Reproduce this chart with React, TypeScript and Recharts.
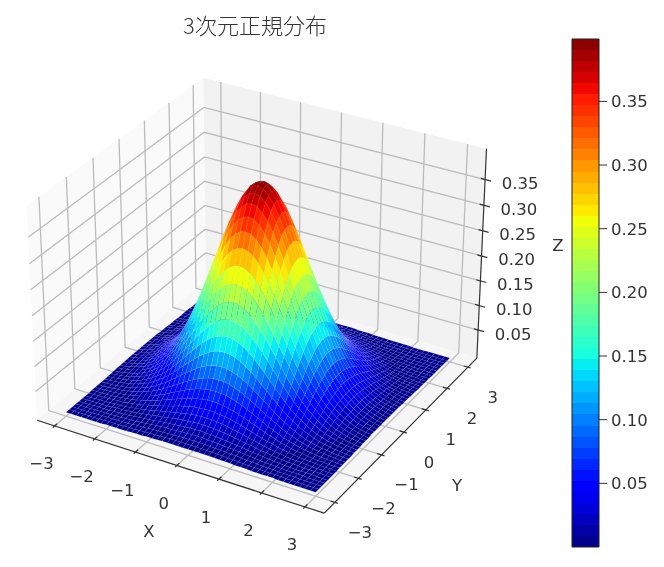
import React from "react";
import { BarChart, Bar, ScatterChart, Scatter, XAxis, YAxis } from "recharts";

const xTicks = [-3, -2, -1, 0, 1, 2, 3];
const yTicks = [-3, -2, -1, 0, 1, 2, 3];
const zTicks = [0.05, 0.1, 0.15, 0.2, 0.25, 0.3, 0.35];
const gridStep = 0.125;
const zMin = 0.0;
const zMax = 0.399;

const zQuadrant = [
  [.399,.396,.387,.372,.352,.328,.301,.272,.242,.212,.183,.155,.130,.107,.086,.069,.054,.042,.032,.024,.018,.013,.009,.006,.004],
  [.396,.393,.384,.369,.349,.326,.299,.270,.240,.210,.181,.154,.129,.106,.086,.068,.054,.041,.032,.024,.017,.013,.009,.006,.004],
  [.387,.384,.375,.360,.341,.318,.292,.264,.235,.205,.177,.150,.126,.103,.084,.067,.052,.040,.031,.023,.017,.012,.009,.006,.004],
  [.372,.369,.360,.347,.328,.306,.281,.254,.226,.198,.170,.145,.121,.099,.080,.064,.050,.039,.030,.022,.016,.012,.008,.006,.004],
  [.352,.349,.341,.328,.311,.290,.266,.240,.214,.187,.161,.137,.114,.094,.076,.061,.048,.037,.028,.021,.015,.011,.008,.006,.004],
  [.328,.326,.318,.306,.290,.270,.248,.224,.199,.174,.150,.128,.107,.088,.071,.057,.044,.034,.026,.020,.014,.010,.007,.005,.004],
  [.301,.299,.292,.281,.266,.248,.227,.205,.183,.160,.138,.117,.098,.080,.065,.052,.041,.032,.024,.018,.013,.010,.007,.005,.003],
  [.272,.270,.264,.254,.240,.224,.205,.186,.165,.145,.125,.106,.088,.073,.059,.047,.037,.028,.022,.016,.012,.009,.006,.004,.003],
  [.242,.240,.235,.226,.214,.199,.183,.165,.147,.129,.111,.094,.079,.065,.052,.042,.033,.025,.019,.014,.011,.008,.006,.004,.003],
  [.212,.210,.205,.198,.187,.174,.160,.145,.129,.113,.097,.082,.069,.057,.046,.037,.029,.022,.017,.013,.009,.007,.005,.003,.002],
  [.183,.181,.177,.170,.161,.150,.138,.125,.111,.097,.084,.071,.059,.049,.040,.031,.025,.019,.015,.011,.008,.006,.004,.003,.002],
  [.155,.154,.150,.145,.137,.128,.117,.106,.094,.082,.071,.060,.050,.041,.034,.027,.021,.016,.012,.009,.007,.005,.004,.002,.002],
  [.130,.129,.126,.121,.114,.107,.098,.088,.079,.069,.059,.050,.042,.035,.028,.022,.018,.014,.010,.008,.006,.004,.003,.002,.001],
  [.107,.106,.103,.099,.094,.088,.080,.073,.065,.057,.049,.041,.035,.028,.023,.018,.014,.011,.008,.006,.005,.003,.002,.002,.001],
  [.086,.086,.084,.080,.076,.071,.065,.059,.052,.046,.040,.034,.028,.023,.019,.015,.012,.009,.007,.005,.004,.003,.002,.001,.001],
  [.069,.068,.067,.064,.061,.057,.052,.047,.042,.037,.031,.027,.022,.018,.015,.012,.009,.007,.005,.004,.003,.002,.002,.001,.001],
  [.054,.054,.052,.050,.048,.044,.041,.037,.033,.029,.025,.021,.018,.014,.012,.009,.007,.006,.004,.003,.002,.002,.001,.001,.001],
  [.042,.041,.040,.039,.037,.034,.032,.028,.025,.022,.019,.016,.014,.011,.009,.007,.006,.004,.003,.003,.002,.001,.001,.001,.000],
  [.032,.032,.031,.030,.028,.026,.024,.022,.019,.017,.015,.012,.010,.008,.007,.005,.004,.003,.003,.002,.001,.001,.001,.000,.000],
  [.024,.024,.023,.022,.021,.020,.018,.016,.014,.013,.011,.009,.008,.006,.005,.004,.003,.003,.002,.001,.001,.001,.001,.000,.000],
  [.018,.017,.017,.016,.015,.014,.013,.012,.011,.009,.008,.007,.006,.005,.004,.003,.002,.002,.001,.001,.001,.001,.000,.000,.000],
  [.013,.013,.012,.012,.011,.010,.010,.009,.008,.007,.006,.005,.004,.003,.003,.002,.002,.001,.001,.001,.001,.000,.000,.000,.000],
  [.009,.009,.009,.008,.008,.007,.007,.006,.006,.005,.004,.004,.003,.002,.002,.002,.001,.001,.001,.001,.000,.000,.000,.000,.000],
  [.006,.006,.006,.006,.006,.005,.005,.004,.004,.003,.003,.002,.002,.002,.001,.001,.001,.001,.000,.000,.000,.000,.000,.000,.000],
  [.004,.004,.004,.004,.004,.004,.003,.003,.003,.002,.002,.002,.001,.001,.001,.001,.001,.000,.000,.000,.000,.000,.000,.000,.000],
];

// axis box of the 3d view
const xLim = [-3.44, 3.44];
const yLim = [-3.44, 3.44];
const zLim = [-0.008, 0.409];
const BOX = [1.19, 1.19, 0.893];

const unit = (v: number, lim: number[]) => (v - lim[0]) / (lim[1] - lim[0]) - 0.5;

function view(x: number, y: number, z: number) {
  const a = unit(x, xLim) * BOX[0];
  const b = unit(y, yLim) * BOX[1];
  const c = unit(z, zLim) * BOX[2];
  return {
    u: 0.866 * a + 0.5 * b,
    v: -0.25 * a + 0.433 * b + 0.866 * c,
    n: 0.433 * a - 0.75 * b + 0.5 * c,
  };
}

// elev 30, azim -60 camera at distance 10
function project(x: number, y: number, z: number) {
  const { u, v, n } = view(x, y, z);
  const w = 10 - n;
  return [261 + (2765 * u) / w, 285 - (2739 * v) / w];
}

function anchored(points: number[][], style: any) {
  const p = points.map(([x, y, z]) => project(x, y, z));
  return {
    px: p[0][0],
    py: p[0][1],
    offs: p.map(([x, y]) => [x - p[0][0], y - p[0][1]]),
    ...style,
  };
}

function interp(t: number, xs: number[], ys: number[]) {
  for (let i = 1; i < xs.length; i++) {
    if (t <= xs[i]) return ys[i - 1] + ((ys[i] - ys[i - 1]) * (t - xs[i - 1])) / (xs[i] - xs[i - 1]);
  }
  return ys[ys.length - 1];
}

function jet(t: number) {
  const r = interp(t, [0, 0.35, 0.66, 0.89, 1], [0, 0, 1, 1, 0.5]);
  const g = interp(t, [0, 0.125, 0.375, 0.64, 0.91, 1], [0, 0, 1, 1, 0, 0]);
  const b = interp(t, [0, 0.11, 0.34, 0.65, 1], [0.5, 1, 1, 0, 0]);
  return `rgb(${Math.round(r * 255)},${Math.round(g * 255)},${Math.round(b * 255)})`;
}

const LEVELS = 46;
function levelColor(z: number) {
  const t = Math.min(0.9999, Math.max(0, (z - zMin) / (zMax - zMin)));
  return jet((Math.floor(t * LEVELS) + 0.5) / LEVELS);
}

const half = 24;
const gridValue = (i: number) => i * gridStep;
const zAt = (i: number, j: number) => zQuadrant[Math.abs(j)][Math.abs(i)];

function buildFacets() {
  const out: any[] = [];
  for (let j = -half; j < half; j++) {
    for (let i = -half; i < half; i++) {
      const corners = [
        [i, j],
        [i + 1, j],
        [i + 1, j + 1],
        [i, j + 1],
      ].map(([a, b]) => [gridValue(a), gridValue(b), zAt(a, b)]);
      const mean = corners.reduce((s, c) => s + c[2], 0) / 4;
      const depth = corners.reduce((s, c) => s + view(c[0], c[1], c[2]).n, 0) / 4;
      out.push({
        ...anchored(corners, { closed: true, fill: levelColor(mean), stroke: "rgba(255,255,255,0.18)", sw: 0.35 }),
        depth,
      });
    }
  }
  return out.sort((p, q) => p.depth - q.depth);
}

const [x0, x1] = xLim;
const [y0, y1] = yLim;
const [z0, z1] = zLim;

const panes = [
  anchored([[x0, y0, z0], [x0, y1, z0], [x0, y1, z1], [x0, y0, z1]], { closed: true, fill: "#fafafa" }),
  anchored([[x0, y1, z0], [x1, y1, z0], [x1, y1, z1], [x0, y1, z1]], { closed: true, fill: "#f2f2f2" }),
  anchored([[x0, y0, z0], [x1, y0, z0], [x1, y1, z0], [x0, y1, z0]], { closed: true, fill: "#f6f6f6" }),
];

const gridStyle = { stroke: "#bcbcbc", sw: 1.3 };
const gridLines = [
  ...xTicks.map((t) => anchored([[t, y0, z0], [t, y1, z0], [t, y1, z1]], gridStyle)),
  ...yTicks.map((t) => anchored([[x1, t, z0], [x0, t, z0], [x0, t, z1]], gridStyle)),
  ...zTicks.map((t) => anchored([[x0, y0, t], [x0, y1, t], [x1, y1, t]], gridStyle)),
];

const axisStyle = { stroke: "#333", sw: 1.2 };
const axisLines = [
  anchored([[x0, y0, z0], [x1, y0, z0]], axisStyle),
  anchored([[x1, y0, z0], [x1, y1, z0]], axisStyle),
  anchored([[x1, y1, z0], [x1, y1, z1]], axisStyle),
  ...xTicks.map((t) => anchored([[t, y0 + 0.1, z0], [t, y0 - 0.07, z0]], axisStyle)),
  ...yTicks.map((t) => anchored([[x1 - 0.1, t, z0], [x1 + 0.07, t, z0]], axisStyle)),
  ...zTicks.map((t) => anchored([[x1 - 0.1, y1, t], [x1 + 0.14, y1, t]], axisStyle)),
];

const minus = (v: number) => String(v).replace("-", "\u2212");

function tickLabel(p: number[], dx: number, dy: number, text: string) {
  return { px: p[0] + dx, py: p[1] + dy, text, size: 16.5 };
}

const labels = [
  ...xTicks.map((t) => tickLabel(project(t, y0, z0), -13, 38, minus(t))),
  ...yTicks.map((t) => tickLabel(project(x1, t, z0), 25, 30, minus(t))),
  ...zTicks.map((t) => tickLabel(project(x1, y1, t), 35, 4, t.toFixed(2))),
  { px: 149, py: 531, text: "X", size: 16.5 },
  { px: 457, py: 485, text: "Y", size: 16.5 },
  { px: 558, py: 245, text: "Z", size: 16.5 },
  { px: 255, py: 24, text: "3次元正規分布", size: 22, cjk: true },
];

function MeshShape(props: any) {
  const { cx, cy, payload } = props;
  const pts = payload.offs.map(([dx, dy]: number[]) => `${cx + dx},${cy + dy}`).join(" ");
  if (payload.closed) {
    return <polygon points={pts} fill={payload.fill} stroke={payload.stroke || "none"} strokeWidth={payload.sw || 0} />;
  }
  return <polyline points={pts} fill="none" stroke={payload.stroke} strokeWidth={payload.sw} />;
}

function LabelShape(props: any) {
  const { cx, cy, payload } = props;
  return (
    <text
      x={cx}
      y={cy}
      textAnchor="middle"
      dominantBaseline="central"
      fontSize={payload.size}
      fontFamily={payload.cjk ? "'Noto Sans CJK JP'" : "'DejaVu Sans'"}
      fontWeight={payload.cjk ? 300 : 400}
      fill="#333"
    >
      {payload.text}
    </text>
  );
}

const facets = buildFacets();
const colorbarData = [{ name: "z", top: zMax }];

function gradientStops() {
  const stops: React.ReactNode[] = [];
  for (let k = 0; k < LEVELS; k++) {
    const color = jet((LEVELS - k - 0.5) / LEVELS);
    stops.push(<stop key={`a${k}`} offset={`${(k / LEVELS) * 100}%`} stopColor={color} />);
    stops.push(<stop key={`b${k}`} offset={`${((k + 1) / LEVELS) * 100}%`} stopColor={color} />);
  }
  return stops;
}

export default function App() {
  return (
    <div style={{ position: "absolute", left: 0, top: 0, width: 664, height: 567, background: "#fff", filter: "blur(0.5px)" }}>
      <div style={{ position: "absolute", left: 0, top: 0 }}>
        <ScatterChart width={664} height={567} margin={{ top: 0, right: 0, bottom: 0, left: 0 }}>
          <XAxis type="number" dataKey="px" domain={[0, 664]} hide />
          <YAxis type="number" dataKey="py" domain={[0, 567]} reversed hide />
          <Scatter data={panes} shape={MeshShape} isAnimationActive={false} />
          <Scatter data={gridLines} shape={MeshShape} isAnimationActive={false} />
          <Scatter data={axisLines} shape={MeshShape} isAnimationActive={false} />
          <Scatter data={facets} shape={MeshShape} isAnimationActive={false} />
          <Scatter data={labels} shape={LabelShape} isAnimationActive={false} />
        </ScatterChart>
      </div>
      <div style={{ position: "absolute", left: 571, top: 38 }}>
        <BarChart
          width={93}
          height={510}
          data={colorbarData}
          barCategoryGap={0}
          margin={{ top: 1, right: 0, bottom: 1, left: 1 }}
        >
          <defs>
            <linearGradient id="jetBar" x1="0" y1="0" x2="0" y2="1">
              {gradientStops()}
            </linearGradient>
          </defs>
          <XAxis dataKey="name" hide />
          <YAxis
            orientation="right"
            width={65}
            domain={[zMin, zMax]}
            ticks={zTicks}
            tickFormatter={(v: number) => v.toFixed(2)}
            axisLine={false}
            tickSize={8}
            tickMargin={4}
            tickLine={{ stroke: "#333" }}
            tick={{ fill: "#333", fontSize: 16.5, fontFamily: "'DejaVu Sans'" }}
          />
          <Bar dataKey="top" fill="url(#jetBar)" stroke="#222" strokeWidth={1} isAnimationActive={false} />
        </BarChart>
      </div>
    </div>
  );
}
